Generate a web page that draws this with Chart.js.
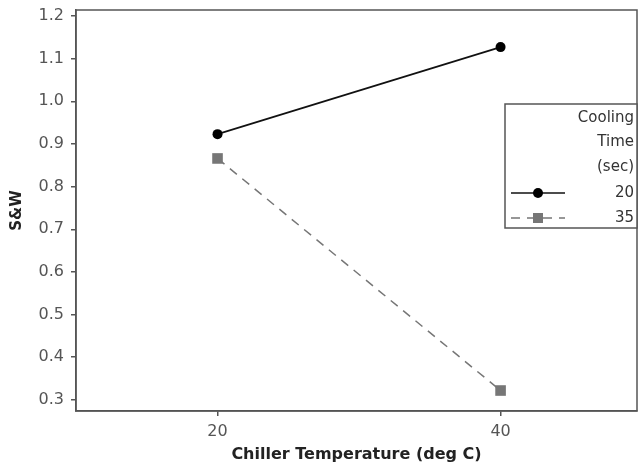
<!DOCTYPE html>
<html>
<head>
<meta charset="utf-8">
<script src="https://cdn.jsdelivr.net/npm/chart.js@4.4.1/dist/chart.umd.min.js"></script>
<style>
    html, body { margin: 0; padding: 0; background: #fff; }
    #wrap { width: 638px; height: 469px; position: relative; }
</style>
</head>
<body>
<div id="wrap"><canvas id="interactionChart"></canvas></div>
<script>
// Chiller temperature levels (deg C)
const chillerTemps = [20, 40];
// Mean S&W for each cooling time
const coolingTimes = ['20', '35'];
const swCool20 = [0.923, 1.127];
const swCool35 = [0.866, 0.322];
// Axis ticks
const yTicks = [0.3, 0.4, 0.5, 0.6, 0.7, 0.8, 0.9, 1.0, 1.1, 1.2];
const xTicks = [20, 40];
const legendTitle = ['Cooling', 'Time', '(sec)'];

const FONT = '"DejaVu Sans", Verdana, sans-serif';
const FRAME = '#555';
const GREY = '#767676';

// Frame around the plot plus the boxed legend at the right
const framePlugin = {
    id: 'frameAndLegend',
    afterDraw(chart) {
        const ctx = chart.ctx;
        const a = chart.chartArea;
        ctx.save();
        ctx.strokeStyle = FRAME;
        ctx.lineWidth = 1.5;
        ctx.strokeRect(a.left, a.top, a.right - a.left, a.bottom - a.top);

        // legend box
        const bx = 505, by = 104, bw = 132, bh = 124;
        ctx.fillStyle = '#fff';
        ctx.fillRect(bx, by, bw, bh);
        ctx.strokeRect(bx, by, bw, bh);

        ctx.fillStyle = '#333';
        ctx.font = '15px ' + FONT;
        ctx.textAlign = 'right';
        ctx.textBaseline = 'middle';
        const tx = 634;
        legendTitle.forEach((t, i) => ctx.fillText(t, tx, 118 + i * 24.5));

        const rows = [193, 218];
        chart.data.datasets.forEach((ds, i) => {
            const y = rows[i];
            ctx.strokeStyle = ds.borderColor;
            ctx.lineWidth = ds.borderWidth;
            ctx.setLineDash(ds.borderDash || []);
            ctx.beginPath();
            ctx.moveTo(511, y);
            ctx.lineTo(565, y);
            ctx.stroke();
            ctx.setLineDash([]);
            ctx.fillStyle = ds.pointBackgroundColor;
            if (ds.pointStyle === 'rect') {
                ctx.fillRect(533, y - 5, 10, 10);
            } else {
                ctx.beginPath();
                ctx.arc(538, y, 5, 0, Math.PI * 2);
                ctx.fill();
            }
            ctx.fillStyle = '#333';
            ctx.fillText(coolingTimes[i], tx, y);
        });
        ctx.restore();
    }
};

const ctx = document.getElementById('interactionChart').getContext('2d');
new Chart(ctx, {
    type: 'line',
    data: {
        datasets: [
            {
                label: coolingTimes[0],
                data: chillerTemps.map((t, i) => ({ x: t, y: swCool20[i] })),
                borderColor: '#111',
                borderWidth: 1.6,
                pointStyle: 'circle',
                pointRadius: 5,
                pointBackgroundColor: '#000',
                pointBorderWidth: 0
            },
            {
                label: coolingTimes[1],
                data: chillerTemps.map((t, i) => ({ x: t, y: swCool35[i] })),
                borderColor: GREY,
                borderWidth: 1.5,
                borderDash: [9, 7],
                pointStyle: 'rect',
                pointRadius: 7.5,
                pointBackgroundColor: GREY,
                pointBorderWidth: 0
            }
        ]
    },
    options: {
        responsive: true,
        maintainAspectRatio: false,
        animation: false,
        layout: { autoPadding: false, padding: { top: 10, right: 1, left: 0, bottom: 0 } },
        plugins: {
            legend: { display: false },
            tooltip: { enabled: false }
        },
        scales: {
            x: {
                type: 'linear',
                min: 10,
                max: 49.64,
                afterBuildTicks: axis => { axis.ticks = xTicks.map(v => ({ value: v })); },
                afterFit: axis => {
                    axis.height = 58;
                    axis.paddingLeft = 0;
                    axis.paddingRight = 0;
                },
                grid: { display: true, drawOnChartArea: false, drawTicks: true, tickLength: 5, color: FRAME, lineWidth: 1.5 },
                border: { display: true, color: FRAME, width: 1.5 },
                ticks: { color: '#555', font: { family: FONT, size: 16 }, padding: 6 },
                title: {
                    display: true,
                    text: 'Chiller Temperature (deg C)',
                    color: '#222',
                    font: { family: FONT, size: 16, weight: 'bold' },
                    padding: { top: 0, bottom: 5 }
                }
            },
            y: {
                min: 0.274,
                max: 1.214,
                afterBuildTicks: axis => { axis.ticks = yTicks.map(v => ({ value: v })); },
                afterFit: axis => {
                    axis.width = 76;
                    axis.paddingTop = 0;
                    axis.paddingBottom = 0;
                },
                grid: { display: true, drawOnChartArea: false, drawTicks: true, tickLength: 5, color: FRAME, lineWidth: 1.5 },
                border: { display: true, color: FRAME, width: 1.5 },
                ticks: {
                    color: '#555',
                    font: { family: FONT, size: 16 },
                    padding: 7,
                    callback: v => Number(v).toFixed(1)
                },
                title: {
                    display: true,
                    text: 'S&W',
                    color: '#222',
                    font: { family: FONT, size: 15, weight: 'bold' },
                    padding: { top: 8, bottom: 0 }
                }
            }
        }
    },
    plugins: [framePlugin]
});
</script>
</body>
</html>
